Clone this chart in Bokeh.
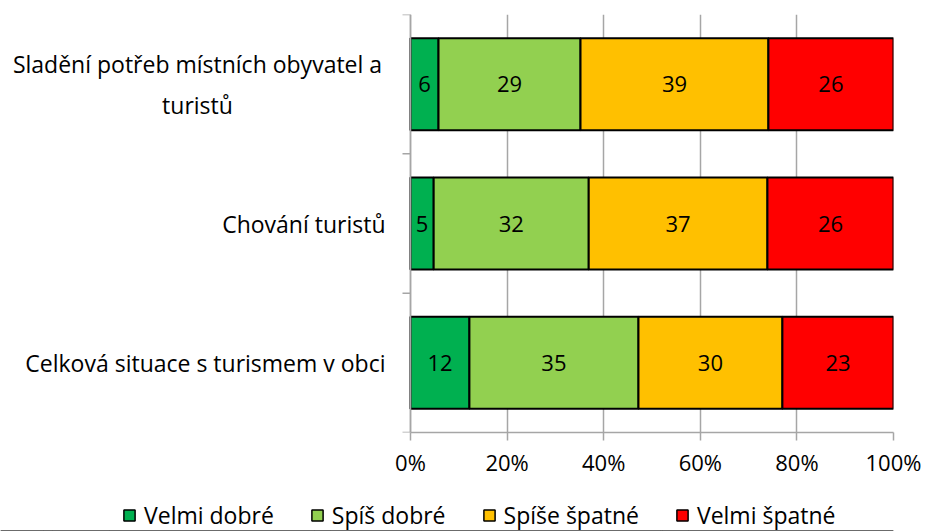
import math
from bokeh.plotting import figure
from bokeh.layouts import column
from bokeh.models import ColumnDataSource, Range1d, FixedTicker, Legend, LegendItem, CustomJSTickFormatter, Span
from bokeh.core.properties import value
from bokeh.embed import file_html
from bokeh.resources import INLINE

categories = ["Sladění potřeb místních obyvatel a\nturistů", "Chování turistů", "Celková situace s turismem v obci"]
series = ["Velmi dobré", "Spíš dobré", "Spíše špatné", "Velmi špatné"]
velmi_dobre = [5.8, 4.8, 12.2]
spis_dobre = [29.4, 32.1, 35.0]
spise_spatne = [38.9, 37.0, 29.8]
velmi_spatne = [25.9, 26.1, 23.0]
colors = ["#00b050", "#92d050", "#ffc000", "#ff0000"]
x_ticks = [0, 20, 40, 60, 80, 100]

FONT = "Open Sans"
FS = "22px"
CAT_FS = "23px"
LEG_FS = "23px"
W = 927
RIGHT = 34
LABEL_AREA = 410           # pixels left of the 0% line
frame_w = W - RIGHT
x_left = -100.0 * LABEL_AREA / (frame_w - LABEL_AREA)

n = len(categories)
ypos = [n - 0.5 - i for i in range(n)]

p = figure(frame_width=frame_w, frame_height=418, output_backend="svg", toolbar_location=None,
           x_range=Range1d(x_left, 100), y_range=Range1d(0, n), y_axis_location=None,
           min_border_left=0, min_border_right=RIGHT, min_border_top=14, min_border_bottom=56)
p.outline_line_color = None

gray = "#a6a6a6"
p.xgrid.ticker = FixedTicker(ticks=x_ticks)
p.xgrid.grid_line_color = gray
p.xgrid.grid_line_width = 1.5
p.ygrid.grid_line_color = None

p.xaxis.ticker = FixedTicker(ticks=x_ticks)
p.xaxis.bounds = (0, 100)
p.xaxis.formatter = CustomJSTickFormatter(code="return tick.toFixed(0) + '%';")
p.xaxis.axis_line_color = gray
p.xaxis.axis_line_width = 1.5
p.xaxis.major_tick_line_color = gray
p.xaxis.major_tick_line_width = 1.5
p.xaxis.major_tick_out = 8
p.xaxis.major_tick_in = 0
p.xaxis.minor_tick_line_color = None
p.xaxis.major_label_text_font = FONT
p.xaxis.major_label_text_font_size = FS
p.xaxis.major_label_text_color = "black"
p.xaxis.major_label_standoff = 6

# value axis line (y axis) at 0% and its category-boundary ticks
p.add_layout(Span(location=0, dimension="height", line_color=gray, line_width=1.5))
p.ray(x=[0] * (n + 1), y=list(range(n + 1)), length=8, length_units="screen", angle=math.pi,
      line_color=gray, line_width=1.5)

# legend strip below the chart
lg = figure(width=W, height=43, output_backend="svg", toolbar_location=None,
            x_range=Range1d(0, 100), y_range=Range1d(100, 101),
            x_axis_location=None, y_axis_location=None,
            min_border_left=0, min_border_right=0, min_border_top=0, min_border_bottom=0)
lg.outline_line_color = None
lg.grid.grid_line_color = None

vals = [velmi_dobre, spis_dobre, spise_spatne, velmi_spatne]
left = [0.0] * n
items = []
for s, v, c in zip(series, vals, colors):
    right = [l + x for l, x in zip(left, v)]
    src = ColumnDataSource(dict(y=ypos, left=left, right=right,
                                xc=[(l + r) / 2 for l, r in zip(left, right)],
                                lab=[str(round(x)) for x in v]))
    p.hbar(y="y", left="left", right="right", height=0.66, source=src,
           fill_color=c, line_color="black", line_width=2)
    p.text(x="xc", y="y", text="lab", source=src, text_align="center", text_baseline="middle",
           text_font=value(FONT), text_font_size=FS, text_color="black")
    r2 = lg.hbar(y="y", left="left", right="right", height=0.66, source=src,
                 fill_color=c, line_color="black", line_width=1.5)
    items.append(LegendItem(label=s, renderers=[r2]))
    left = right

# category labels
for cat, y in zip(categories, ypos):
    if "\n" in cat:
        p.text(x=[0], y=[y], text=[cat], x_offset=-213, text_align="center", text_baseline="middle",
               text_font=value(FONT), text_font_size=CAT_FS, text_color="black", text_line_height=1.28)
    else:
        p.text(x=[0], y=[y], text=[cat], x_offset=-25, text_align="right", text_baseline="middle",
               text_font=value(FONT), text_font_size=CAT_FS, text_color="black")

legend = Legend(items=items, orientation="horizontal", location=(122, 0),
                label_text_font=FONT, label_text_font_size=LEG_FS, label_text_color="black",
                glyph_width=14, glyph_height=14, label_standoff=8, spacing=36, padding=0, margin=0,
                border_line_color=None, background_fill_alpha=0)
lg.add_layout(legend, "center")

open("out.html", "w").write(file_html(column(p, lg, spacing=0), INLINE))
